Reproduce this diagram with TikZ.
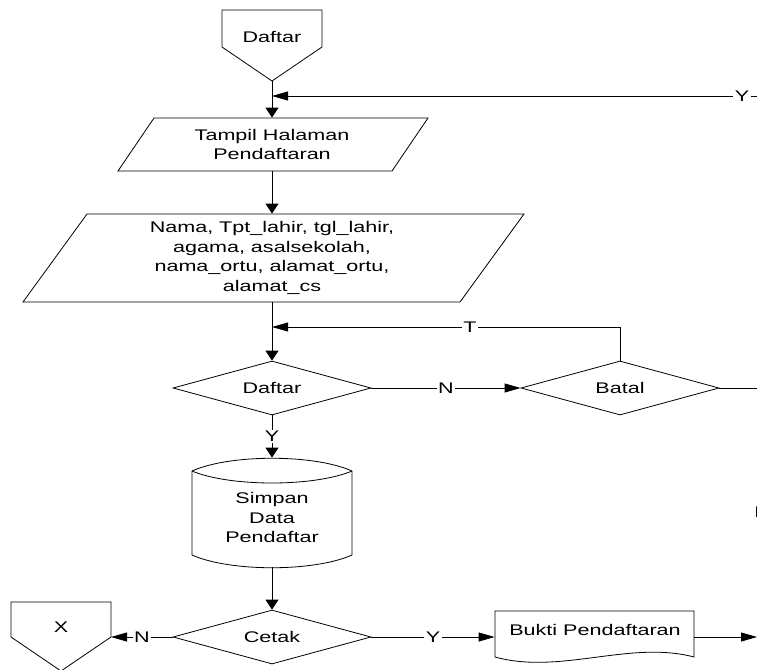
\documentclass[tikz,border=0pt]{standalone}
\usepackage{fontspec}
\setmainfont{Liberation Sans}[FakeStretch=1.4]
\usetikzlibrary{arrows.meta,shapes.geometric}

\begin{document}
\begin{tikzpicture}[x=1pt,y=-1pt,
  line width=0.8pt,
  every node/.style={font=\fontsize{15.4}{19.5}\selectfont, inner sep=0pt},
  decision/.style={diamond, draw, aspect=3.67, minimum width=198pt, minimum height=54pt, inner sep=0pt},
  anchorbox/.style={rectangle, inner sep=0pt},
  lbl/.style={fill=white, inner sep=1.5pt},
  harrow/.style={-{Triangle[length=16pt,width=9pt]}},
  varrow/.style={-{Triangle[length=10pt,width=13pt]}},
]
\useasboundingbox (0,0) rectangle (757,669);

% off-page connector "Daftar"
\draw (222,10) -- (322,10) -- (322,47) -- (272,81) -- (222,47) -- cycle;
\node (daftarin) at (272,37) {Daftar};
\coordinate (daftartip) at (272,81);

% display: registration page
\draw (154,118) -- (428,118) -- (392,171) -- (118,171) -- cycle;
\node[anchorbox, align=center, minimum height=53pt] (tampil) at (272,144.5) {Tampil Halaman\\Pendaftaran};

% input data
\draw (87,214) -- (524,214) -- (460,302) -- (23,302) -- cycle;
\node[anchorbox, align=center, minimum height=88pt] (input) at (272,258)
  {Nama, Tpt\_lahir, tgl\_lahir,\\agama, asalsekolah,\\nama\_ortu, alamat\_ortu,\\alamat\_cs};

% decisions
\node[decision] (daftar) at (272,388) {Daftar};
\node[decision] (batal) at (620,388) {Batal};

% storage: save registrant
\draw (192,471) .. controls (230,454) and (314,454) .. (352,471) -- (352,555)
  .. controls (314,572) and (230,572) .. (192,555) -- cycle;
\draw (192,471) .. controls (230,487) and (314,487) .. (352,471);
\node[anchorbox, minimum width=160pt, minimum height=109pt] (simpan) at (272,512.5) {};
\node[align=center] (simpantext) at (272,517.5) {Simpan\\Data\\Pendaftar};

\node[decision] (cetak) at (272,637) {Cetak};

% off-page connector "X"
\draw (11,602) -- (111,602) -- (111,637) -- (61,671) -- (11,637) -- cycle;
\node (xconn) at (61,627) {X};
\coordinate (xin) at (111,637);

% document: registration receipt
\draw (495,611) -- (694,611) -- (694,657) .. controls (630,640) and (560,675) .. (495,657) -- cycle;
\node[anchorbox, minimum width=199pt, minimum height=52pt] (bukti) at (594.5,637) {};
\node (buktitext) at (595,630) {Bukti Pendaftaran};

% free ends and joints
\coordinate (yback) at (757,96);
\coordinate (tjoin) at (272,327);
\coordinate (batalout) at (757,388);
\coordinate (buktiout) at (757,637);
\node[anchor=west] (nedge) at (754,512) {N};

% connectors
\draw[varrow] (daftartip) -- (tampil.north);
\draw[harrow] (yback) -- node[lbl, pos=0.031] {Y} (yback -| tampil.north);
\draw[varrow] (tampil.south) -- (input.north);
\draw[varrow] (input.south) -- (daftar.north);
\draw[harrow] (daftar.east) -- node[lbl] {N} (batal.west);
\draw[harrow] (batal.north) |- node[lbl, pos=0.7155] {T} (tjoin);
\draw (batal.east) -- (batalout);
\draw[varrow] (daftar.south) -- node[lbl] {Y} (simpan.north);
\draw[varrow] (simpan.south) -- (cetak.north);
\draw[harrow] (cetak.west) -- node[lbl] {N} (xin);
\draw[harrow] (cetak.east) -- node[lbl] {Y} (bukti.west);
\draw[harrow] (bukti.east) -- (buktiout);
\end{tikzpicture}
\end{document}
